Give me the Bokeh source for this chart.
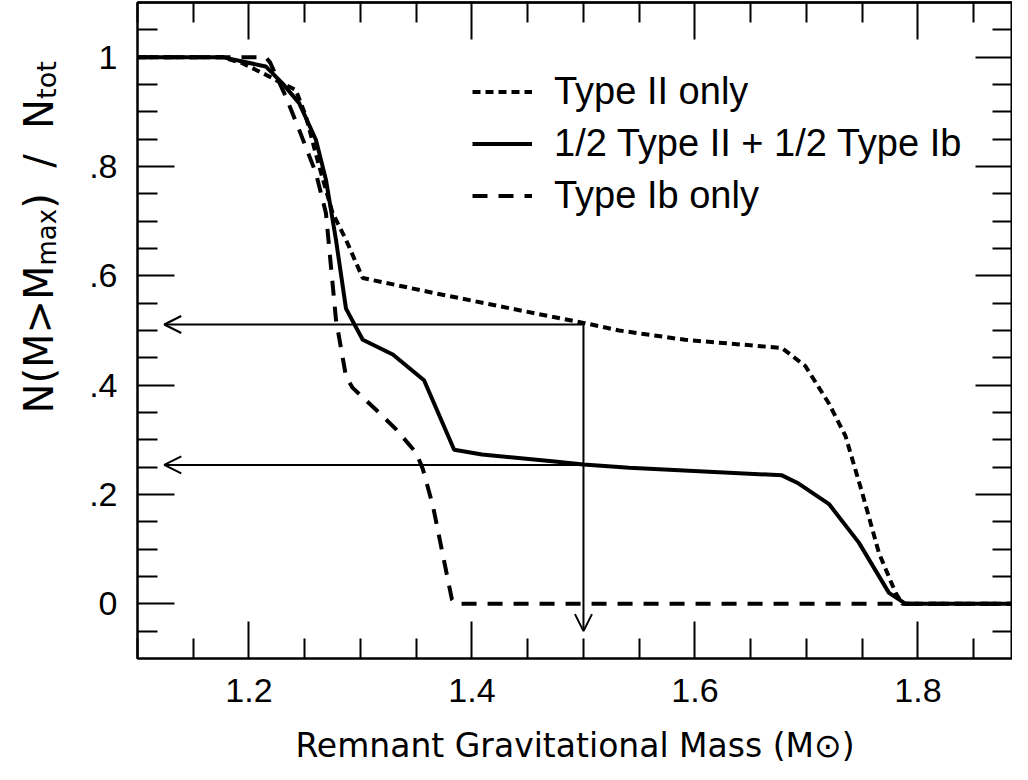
import math
from bokeh.plotting import figure
from bokeh.layouts import row
from bokeh.models import (FixedTicker, LinearAxis, Range1d, Label, Arrow, OpenHead,
                          Legend, LegendItem)
from bokeh.embed import file_html
from bokeh.resources import INLINE

# ---------------- data ----------------
type2_x = [1.10, 1.176, 1.194, 1.215, 1.230, 1.242, 1.251, 1.263, 1.275, 1.287, 1.302,
           1.365, 1.472, 1.500, 1.532, 1.591, 1.678, 1.699, 1.720, 1.735, 1.750, 1.765,
           1.780, 1.786, 1.90]
type2_y = [1.0, 1.0, 0.989, 0.968, 0.952, 0.940, 0.892, 0.800, 0.715, 0.666, 0.596,
           0.569, 0.525, 0.514, 0.500, 0.483, 0.468, 0.435, 0.367, 0.307, 0.203, 0.093,
           0.020, 0.0, 0.0]

mix_x = [1.10, 1.176, 1.215, 1.230, 1.245, 1.260, 1.269, 1.278, 1.287, 1.302, 1.329,
         1.357, 1.384, 1.409, 1.472, 1.500, 1.541, 1.678, 1.693, 1.720, 1.747, 1.774,
         1.789, 1.90]
mix_y = [1.0, 1.0, 0.983, 0.952, 0.916, 0.849, 0.776, 0.666, 0.540, 0.483, 0.456,
         0.409, 0.282, 0.273, 0.261, 0.255, 0.249, 0.235, 0.220, 0.183, 0.112, 0.020,
         0.0, 0.0]

type1b_x = [1.10, 1.215, 1.219, 1.233, 1.245, 1.260, 1.269, 1.278, 1.287, 1.293, 1.317,
            1.332, 1.350, 1.356, 1.365, 1.382, 1.385, 1.90]
type1b_y = [1.0, 1.0, 0.990, 0.928, 0.867, 0.788, 0.715, 0.520, 0.416, 0.395, 0.349,
            0.319, 0.276, 0.246, 0.179, 0.008, 0.0, 0.0]

series_labels = ["Type II only", "1/2 Type II + 1/2 Type Ib", "Type Ib only"]
x_title = "Remnant Gravitational Mass (M\u2299)"

x_ticks = [1.2, 1.4, 1.6, 1.8]
x_tick_labels = ["1.2", "1.4", "1.6", "1.8"]
x_minor = [1.1, 1.15, 1.25, 1.3, 1.35, 1.45, 1.5, 1.55, 1.65, 1.7, 1.75, 1.85]
y_ticks = [0.0, 0.2, 0.4, 0.6, 0.8, 1.0]
y_tick_labels = ["0", ".2", ".4", ".6", ".8", "1"]
y_minor = [-0.05, 0.05, 0.1, 0.15, 0.25, 0.3, 0.35, 0.45, 0.5, 0.55, 0.65, 0.7, 0.75,
           0.85, 0.9, 0.95, 1.05]

arrow_x = 1.5
arrow_levels = [0.511, 0.254]
arrow_left_end = 1.124
arrow_bottom_end = -0.05

FONT = "Liberation Sans"
TFONT = "DejaVu Sans"
NB = "\u00a0"

# ---------------- main plot ----------------
p = figure(frame_width=875, frame_height=656,
           x_range=Range1d(1.1, 1.8848), y_range=Range1d(-0.1, 1.1),
           output_backend="svg", toolbar_location=None,
           min_border_left=57, min_border_right=0, min_border_top=2,
           min_border_bottom=100)
p.xgrid.visible = False
p.ygrid.visible = False
p.outline_line_color = "black"
p.outline_line_width = 2
p.background_fill_color = "white"
p.border_fill_color = "white"


def style(ax):
    ax.axis_line_width = 2
    ax.axis_line_color = "black"
    ax.major_tick_line_width = 2
    ax.minor_tick_line_width = 2
    ax.major_tick_line_color = "black"
    ax.minor_tick_line_color = "black"
    ax.major_tick_in = 37
    ax.major_tick_out = 0
    ax.minor_tick_in = 20
    ax.minor_tick_out = 0
    ax.major_label_text_font = FONT
    ax.major_label_text_font_size = "34px"
    ax.major_label_text_color = "black"


for ax in p.xaxis:
    ax.ticker = FixedTicker(ticks=x_ticks, minor_ticks=x_minor)
    ax.major_label_overrides = {t: l for t, l in zip(x_ticks, x_tick_labels)}
    style(ax)
    ax.major_label_standoff = 20
    ax.axis_label = x_title
    ax.axis_label_text_font = TFONT
    ax.axis_label_text_font_size = "33px"
    ax.axis_label_text_font_style = "normal"
    ax.axis_label_text_color = "black"
    ax.axis_label_standoff = 21
for ax in p.yaxis:
    ax.ticker = FixedTicker(ticks=y_ticks, minor_ticks=y_minor)
    ax.major_label_overrides = {t: l for t, l in zip(y_ticks, y_tick_labels)}
    style(ax)
    ax.major_label_standoff = 20

# top and right: tick marks only (no labels)
for loc, majors, minors in (("above", x_ticks, x_minor), ("right", y_ticks, y_minor)):
    for ticks, length in ((minors, 20), (majors, 37)):
        ax = LinearAxis(ticker=FixedTicker(ticks=[], minor_ticks=ticks))
        style(ax)
        ax.minor_tick_in = length
        ax.major_label_standoff = 0
        p.add_layout(ax, loc)

r2 = p.line(type2_x, type2_y, line_color="black", line_width=4, line_dash="8 5")
rm = p.line(mix_x, mix_y, line_color="black", line_width=4)
rb = p.line(type1b_x, type1b_y, line_color="black", line_width=4, line_dash="15 11")

for lvl in arrow_levels:
    p.add_layout(Arrow(end=OpenHead(size=17, line_width=2, line_color="black"),
                       x_start=arrow_x, y_start=lvl, x_end=arrow_left_end, y_end=lvl,
                       line_width=2, line_color="black"))
p.add_layout(Arrow(end=OpenHead(size=17, line_width=2, line_color="black"),
                   x_start=arrow_x, y_start=arrow_levels[0], x_end=arrow_x,
                   y_end=arrow_bottom_end, line_width=2, line_color="black"))

legend = Legend(items=[LegendItem(label=series_labels[0], renderers=[r2]),
                       LegendItem(label=series_labels[1], renderers=[rm]),
                       LegendItem(label=series_labels[2], renderers=[rb])],
                location=(335, 440), glyph_width=60, glyph_height=45,
                label_height=45, spacing=7, padding=0, margin=0, label_standoff=22,
                label_text_font=FONT, label_text_font_size="38px",
                label_text_color="black",
                border_line_color=None, background_fill_alpha=0)
p.add_layout(legend)

# ---------------- y axis title (rotated, with subscripts) ----------------
yl = figure(width=80, height=764, x_range=Range1d(0, 1), y_range=Range1d(0, 1),
            output_backend="svg", toolbar_location=None, min_border=0,
            x_axis_location=None, y_axis_location=None)
yl.outline_line_color = None
yl.grid.visible = False
yl.background_fill_color = "white"
yl.border_fill_color = "white"

ang = math.pi / 2
parts = [("N(M>M", 40, 0, 3.70), ("max", 26, 8, 2.18),
         (")" + NB * 2 + "/" + NB * 2 + "N", 40, 0, 2.747), ("tot", 27, 8, 1.396)]
yy = 242
for txt, fs, off, wem in parts:
    yl.add_layout(Label(x=38 + off, y=yy, x_units="screen", y_units="screen", text=txt,
                        angle=ang, text_font=TFONT, text_font_size=f"{fs}px",
                        text_align="left", text_baseline="alphabetic",
                        text_color="black"))
    yy += wem * fs

layout = row(yl, p)
open("out.html", "w").write(file_html(layout, INLINE))
